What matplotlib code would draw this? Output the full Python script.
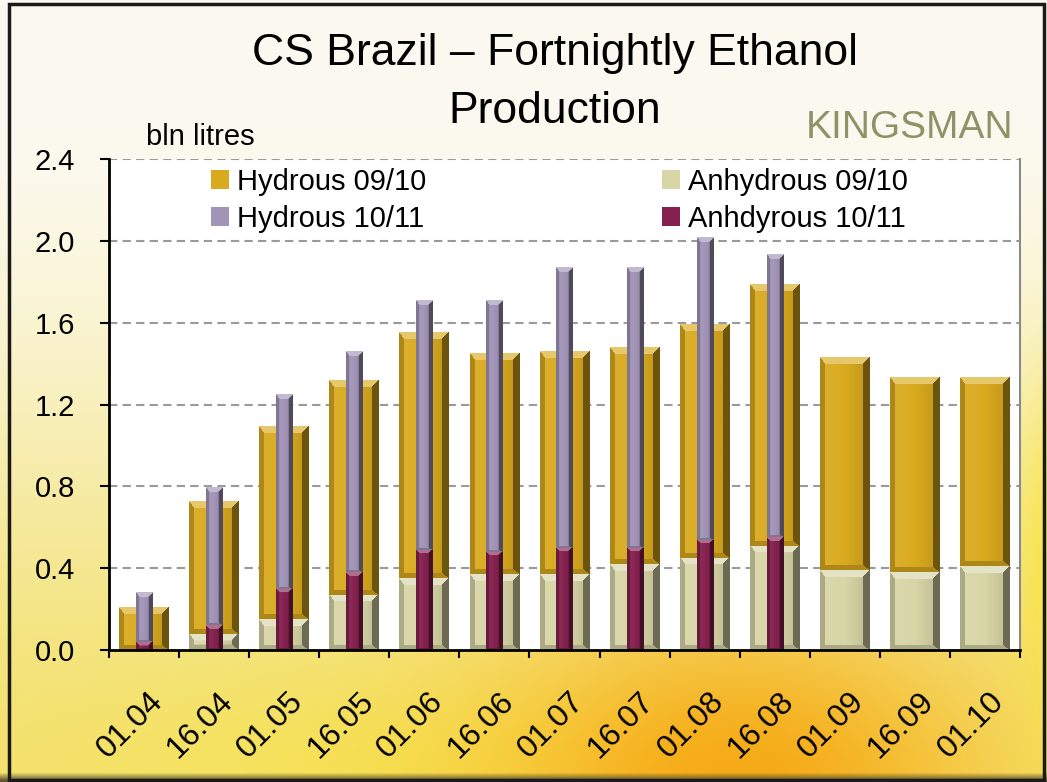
import numpy as np
import matplotlib
matplotlib.use('Agg')
import matplotlib.pyplot as plt
from matplotlib.patches import Patch, Rectangle
from matplotlib.transforms import ScaledTranslation

# ---------------- data ----------------
categories = ['01.04', '16.04', '01.05', '16.05', '01.06', '16.06', '01.07',
              '16.07', '01.08', '16.08', '01.09', '16.09', '01.10']
anhydrous_0910 = [0.00, 0.08, 0.15, 0.27, 0.35, 0.37, 0.37, 0.42, 0.45, 0.51, 0.39, 0.38, 0.41]
hydrous_0910 = [0.21, 0.65, 0.94, 1.05, 1.20, 1.08, 1.09, 1.06, 1.14, 1.28, 1.04, 0.95, 0.92]
anhydrous_1011 = [0.04, 0.12, 0.30, 0.38, 0.49, 0.48, 0.50, 0.50, 0.54, 0.55]
hydrous_1011 = [0.24, 0.67, 0.95, 1.08, 1.22, 1.23, 1.37, 1.37, 1.48, 1.38]
yticks = [0.0, 0.4, 0.8, 1.2, 1.6, 2.0, 2.4]
ytick_labels = ['0.0', '0.4', '0.8', '1.2', '1.6', '2.0', '2.4']
series_labels = ['Hydrous 09/10', 'Hydrous 10/11', 'Anhydrous 09/10', 'Anhdyrous 10/11']

plt.rcParams['font.family'] = ['Liberation Sans', 'DejaVu Sans']

W_PX, H_PX = 1047, 782
fig = plt.figure(figsize=(W_PX / 100, H_PX / 100), dpi=100)

# ---------------- background gradient ----------------
yy, xx = np.mgrid[0:H_PX, 0:W_PX].astype(float)
cream = np.array([252, 250, 240]) / 255
pale = np.array([243, 226, 118]) / 255
orange = np.array([246, 166, 18]) / 255
yellow = np.array([250, 228, 60]) / 255
t = np.clip((yy / H_PX - 0.12) / 0.88, 0, 1)
t = t * t * (3 - 2 * t)
img = cream[None, None, :] * (1 - t[..., None]) + pale[None, None, :] * t[..., None]
g_b = np.exp(-(((xx - 520) / 420) ** 2 + ((yy - 770) / 110) ** 2))
img = img * (1 - 0.6 * g_b[..., None]) + yellow * 0.6 * g_b[..., None]
g_or = np.exp(-(((xx - 740) / 240) ** 2 + ((yy - 790) / 170) ** 2))
img = img * (1 - 0.95 * g_or[..., None]) + orange * 0.95 * g_or[..., None]
g_ye = np.exp(-(((xx - 1060) / 45) ** 2 + ((yy - 560) / 170) ** 2))
img = img * (1 - 0.9 * g_ye[..., None]) + yellow * 0.9 * g_ye[..., None]
dark = np.clip((yy - 772) / 8, 0, 1)
img = img * (1 - dark[..., None]) + np.array([95, 85, 45]) / 255 * dark[..., None]
img = np.clip(img, 0, 1)

bg = fig.add_axes([0, 0, 1, 1], zorder=-10)
bg.imshow(img, extent=[0, 1, 0, 1], aspect='auto', origin='upper', interpolation='bilinear')
bg.set_xlim(0, 1)
bg.set_ylim(0, 1)
bg.axis('off')
fig.patches.append(Rectangle((9 / W_PX, 2 / H_PX), (W_PX - 12) / W_PX, (H_PX - 6) / H_PX,
                             transform=fig.transFigure, fill=False, edgecolor='#1a1a1a',
                             linewidth=2.5, zorder=5))

# ---------------- main axes ----------------
L, R, T, B = 109, 1020, 159, 650
ax = fig.add_axes([L / W_PX, 1 - B / H_PX, (R - L) / W_PX, (B - T) / H_PX])
ax.set_facecolor('white')
x = np.arange(len(categories))
ax.set_xlim(-0.5, len(categories) - 0.5)
ax.set_ylim(0, 2.4)

col_hyd0910 = '#D9AA1E'
col_anh0910 = '#D8D5A6'
col_hyd1011 = '#A194B7'
col_anh1011 = '#86214F'

wide, narrow = 0.71, 0.23
b1 = ax.bar(x, anhydrous_0910, width=wide, color=col_anh0910, zorder=2)
b2 = ax.bar(x, hydrous_0910, width=wide, bottom=anhydrous_0910, color=col_hyd0910, zorder=2)
x2 = np.arange(len(hydrous_1011))
b3 = ax.bar(x2, anhydrous_1011, width=narrow, color=col_anh1011, zorder=4)
b4 = ax.bar(x2, hydrous_1011, width=narrow, bottom=anhydrous_1011, color=col_hyd1011, zorder=4)


def shade(base, f):
    base = np.asarray(base)
    if f >= 1:
        return base + (1 - base) * (f - 1)
    return base * f


def bevel(rect, color, z, widths):
    x0, y0 = rect.get_x(), rect.get_y()
    w, h = rect.get_width(), rect.get_height()
    if h <= 0:
        return
    p0 = ax.transData.transform((x0, y0))
    p1 = ax.transData.transform((x0 + w, y0 + h))
    Wp = max(int(round(p1[0] - p0[0])), 1)
    Hp = max(int(round(p1[1] - p0[1])), 1)
    base = np.array(matplotlib.colors.to_rgb(color))
    gy, gx = np.mgrid[0:Hp, 0:Wp].astype(float) + 0.5
    bl, br, bt, bb = widths
    sc = min(1.0, Hp / (bt + bb + 1))
    bt, bb = bt * sc, bb * sc
    d = np.stack([gx / bl, (Wp - gx) / br, gy / bt, (Hp - gy) / bb])
    idx = np.argmin(d, axis=0)
    dmin = np.min(d, axis=0)
    facs = [0.8, 0.5, 1.35, 0.8]
    out = np.empty((Hp, Wp, 3))
    cf = 1.07 - 0.2 * (gx / Wp) ** 1.5
    for k in range(3):
        out[..., k] = np.where(cf >= 1, base[k] + (1 - base[k]) * (cf - 1), base[k] * cf)
    for i, f in enumerate(facs):
        m = (dmin < 1) & (idx == i)
        out[m] = shade(base, f)
    ax.imshow(np.clip(out, 0, 1), extent=[x0, x0 + w, y0, y0 + h], origin='upper',
              aspect='auto', zorder=z + 0.5, interpolation='bilinear')


for cont, col, z, bw in [(b1, col_anh0910, 2, (5, 7, 7, 5)), (b2, col_hyd0910, 2, (5, 7, 7, 5)),
                         (b3, col_anh1011, 4, (3, 4, 4, 2)), (b4, col_hyd1011, 4, (3, 4, 5, 2))]:
    for r in cont.patches:
        bevel(r, col, z, bw)

ax.set_xlim(-0.5, len(categories) - 0.5)
ax.set_ylim(0, 2.4)

# grid
for yv in yticks[1:]:
    ax.axhline(yv, color='#9a9a9a', linewidth=1.5, linestyle=(0, (4, 2.5)), zorder=1)

# spines
for s in ['left', 'bottom']:
    ax.spines[s].set_color('black')
    ax.spines[s].set_linewidth(2)
    ax.spines[s].set_zorder(6)
ax.spines['right'].set_color('#8a8a8a')
ax.spines['right'].set_linewidth(1.5)
ax.spines['top'].set_visible(False)

# ticks
ax.set_yticks(yticks)
ax.set_yticklabels(ytick_labels)
ax.tick_params(axis='y', direction='out', length=6.5, width=1.5, pad=18, labelsize=21)
ax.set_xticks(np.arange(-0.5, len(categories), 1.0))
ax.set_xticklabels([])
ax.tick_params(axis='x', which='major', direction='out', length=6, width=1.5)
ax.set_xticks(x, minor=True)
ax.set_xticklabels(categories, minor=True, rotation=45, ha='right', va='top',
                   rotation_mode='anchor', fontsize=23)
ax.tick_params(axis='x', which='minor', length=0, pad=26)
off = ScaledTranslation(4 / 100, 0, fig.dpi_scale_trans)
for lab in ax.get_xticklabels(minor=True):
    lab.set_transform(lab.get_transform() + off)

# legend
handles = [Patch(facecolor=col_hyd0910), Patch(facecolor=col_hyd1011),
           Patch(facecolor=col_anh0910), Patch(facecolor=col_anh1011)]
ax.legend(handles, series_labels, ncol=2, loc='upper left',
          bbox_to_anchor=(211 / W_PX, 1 - 168 / H_PX), bbox_transform=fig.transFigure,
          frameon=False, fontsize=21, borderpad=0, borderaxespad=0,
          handlelength=0.6, handleheight=0.6, handletextpad=0.28,
          labelspacing=0.3, columnspacing=8.1)

# texts
fig.text(555 / W_PX, 1 - 65 / H_PX, 'CS Brazil \u2013 Fortnightly Ethanol', ha='center',
         va='baseline', fontsize=32, color='black')
fig.text(555 / W_PX, 1 - 123 / H_PX, 'Production', ha='center', va='baseline',
         fontsize=32, color='black')
fig.text(146 / W_PX, 1 - 145 / H_PX, 'bln litres', ha='left', va='baseline',
         fontsize=21, color='black')
fig.text(1013 / W_PX, 1 - 138 / H_PX, 'KINGSMAN', ha='right', va='baseline',
         fontsize=28, color='#8d9366')

fig.savefig('out.png', dpi=100)
